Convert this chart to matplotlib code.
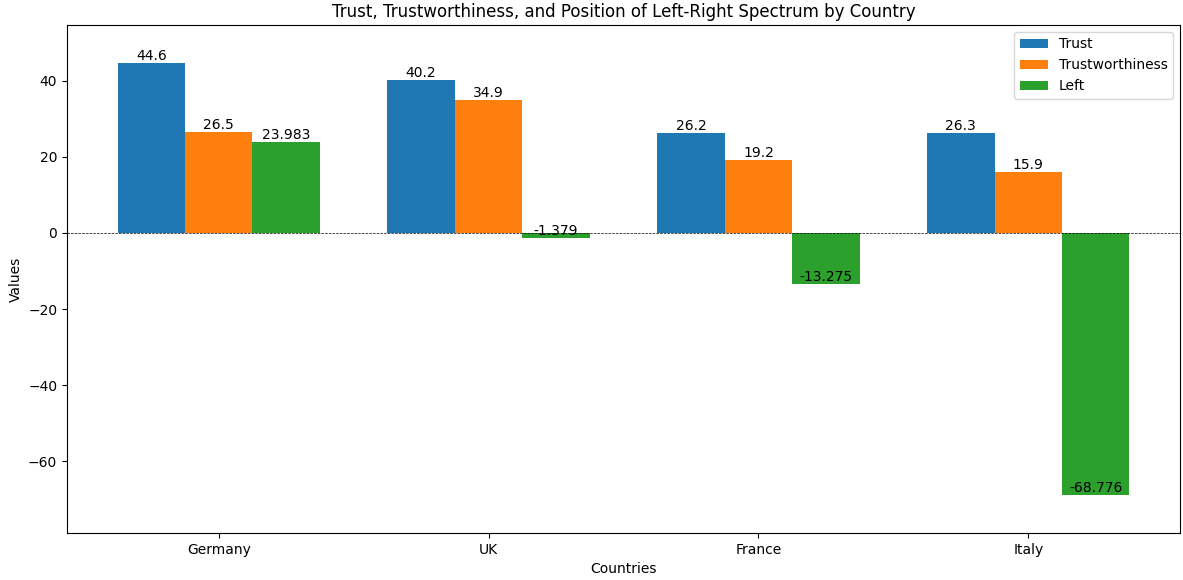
import numpy as np
import matplotlib
matplotlib.use('Agg')
import matplotlib.pyplot as plt

countries = ['Germany', 'UK', 'France', 'Italy']
trust = [44.6, 40.2, 26.2, 26.3]
trustworthiness = [26.5, 34.9, 19.2, 15.9]
left = [23.983, -1.379, -13.275, -68.776]

x = np.arange(len(countries))
w = 0.25

fig, ax = plt.subplots(figsize=(11.83, 5.8), dpi=100)
b1 = ax.bar(x - w, trust, w, label='Trust')
b2 = ax.bar(x, trustworthiness, w, label='Trustworthiness')
b3 = ax.bar(x + w, left, w, label='Left')

for bars in [b1, b2, b3]:
    for b in bars:
        h = b.get_height()
        ax.text(b.get_x() + b.get_width() / 2, h, f'{h:g}', ha='center', va='bottom', fontsize=10)

ax.axhline(0, color='black', linestyle='--', linewidth=0.5)
allv = trust + trustworthiness + left
ax.set_ylim(min(allv) - 10, max(allv) + 10)
ax.set_xticks(x)
ax.set_xticklabels(countries)
ax.set_xlabel('Countries')
ax.set_ylabel('Values')
ax.set_title('Trust, Trustworthiness, and Position of Left-Right Spectrum by Country')
ax.legend(loc='upper right')

plt.subplots_adjust(left=0.0566, right=0.9975, top=0.957, bottom=0.081)
plt.savefig('out.png')
